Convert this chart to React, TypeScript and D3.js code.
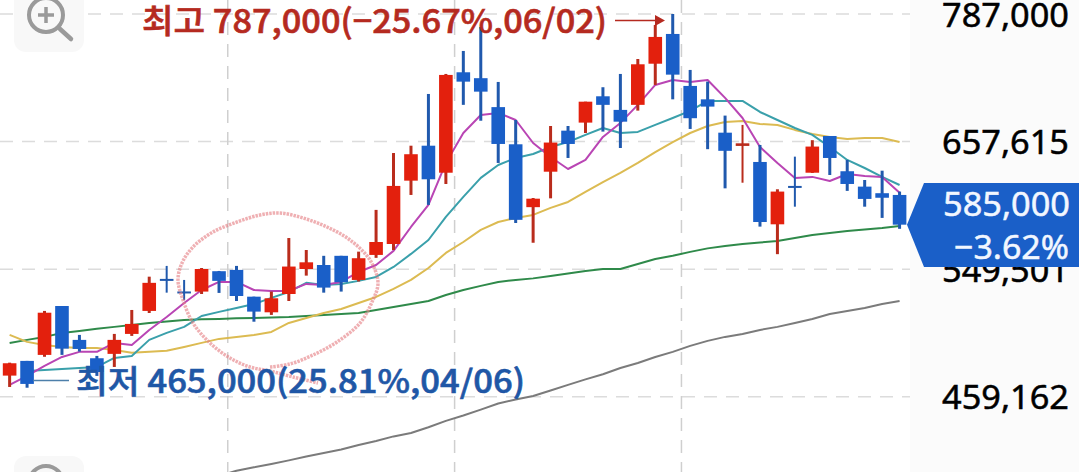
import React from "react";
import * as d3 from "d3";

const W = 1079;
const H = 472;

// Prices in thousand won, one entry per trading day
const highs = [481.7,482.9,518.1,521.7,500.9,486.3,501.6,518.8,543.7,552.0,541.2,550.4,548.1,552.0,528.6,532.4,574.1,564.5,559.9,559.9,563.2,597.3,647.1,653.8,703.2,723.3,747.1,772.7,715.2,677.9,607.4,672.2,672.2,695.6,709.9,723.3,738.7,775.0,787.0,727.4,715.5,682.1,673.2,654.5,614.9,643.8,658.9,662.8,640.8,623.0,631.2,612.9];
const lows = [465.5,465.0,485.7,487.0,489.3,472.8,478.8,500.2,516.6,531.6,526.0,530.6,531.4,525.4,510.3,515.2,525.4,544.5,531.6,532.4,540.0,558.3,564.5,610.0,601.5,619.5,692.5,677.2,638.1,586.4,570.3,607.1,642.6,665.6,666.9,651.7,686.9,712.2,697.9,669.4,650.6,615.7,620.6,583.4,561.2,600.0,629.2,627.4,613.5,600.0,590.6,581.6];
const opens = [473.0,482.9,487.0,521.7,497.4,484.7,487.7,501.6,518.1,542.0,532.5,532.4,547.9,548.9,528.6,517.1,530.6,549.6,552.7,559.9,541.2,560.6,569.3,622.4,653.8,629.4,725.0,719.0,690.3,655.1,599.6,630.3,667.8,675.4,700.9,687.6,692.5,733.8,765.2,711.2,697.9,665.9,653.6,639.0,585.3,617.8,629.4,662.8,630.7,617.2,611.5,610.0];
const closes = [481.3,467.5,516.8,491.3,491.1,475.4,497.4,508.7,539.0,541.2,531.8,549.6,540.5,529.1,517.6,527.4,551.5,554.8,535.4,539.5,558.0,570.9,617.8,646.0,623.6,722.3,715.5,705.5,655.4,589.0,606.8,656.7,655.4,695.6,692.5,676.3,733.2,762.0,722.6,679.6,690.8,649.1,656.0,587.2,612.9,617.0,653.0,642.6,619.5,606.6,607.6,585.0];

const ma5 = [466.9,472.8,479.5,485.6,489.1,489.1,495.3,493.9,504.4,513.7,523.9,533.6,539.7,539.7,533.6,532.9,532.9,538.2,537.4,539.7,547.3,552.7,563.8,583.1,601.5,638.1,665.6,682.7,684.7,677.9,656.3,643.5,632.7,640.8,661.9,675.1,692.5,712.2,717.2,715.2,717.2,699.3,679.8,652.6,638.1,624.8,625.7,622.1,628.3,626.5,625.7,611.8];
const ma20Start = 1;
const ma20 = [476.1,476.8,477.4,478.1,478.8,484.9,486.3,497.4,502.3,506.6,514.4,517.4,520.3,523.2,527.7,532.1,539.0,537.4,538.2,540.5,543.5,551.2,561.4,572.5,591.4,608.3,624.8,636.3,642.6,646.2,652.6,657.2,663.8,670.3,665.6,666.6,673.2,679.8,686.6,696.3,696.3,696.3,685.6,677.9,670.3,663.8,652.6,640.8,633.6,625.7,618.6];
const ma60 = [500.9,496.0,493.9,492.5,491.8,491.8,490.4,488.4,489.1,489.8,492.5,495.3,498.1,499.5,500.9,503.0,509.4,513.0,516.6,519.5,523.9,528.4,534.4,541.2,550.4,562.2,570.9,580.7,587.2,590.6,593.1,599.0,604.0,612.6,621.2,629.2,638.1,648.0,657.2,665.6,672.2,676.0,677.0,674.1,673.2,668.5,664.7,661.9,660.0,661.0,661.0,657.2];
const ma120 = [495.3,497.4,499.5,502.3,503.7,505.2,506.6,508.0,509.4,510.5,511.6,512.0,512.3,512.7,513.0,513.4,513.7,514.4,515.2,515.9,516.6,518.8,521.0,523.2,525.4,529.9,533.6,536.7,539.7,541.2,542.4,544.3,546.2,548.1,549.6,549.6,553.5,557.4,559.9,563.0,565.8,567.7,569.3,570.5,571.7,574.1,576.6,578.2,579.8,581.0,582.3,584.0];
const ma240Start = 12;
const ma240 = [410.7,413.7,415.7,417.7,419.8,422.1,424.2,426.3,429.0,431.4,434.2,436.3,439.8,443.8,447.2,450.9,454.8,457.4,459.6,463.2,466.9,470.5,473.9,478.1,481.5,485.6,489.1,493.2,496.7,499.5,501.6,504.4,506.6,509.4,512.3,515.9,518.1,520.3,523.2,525.4];

const axisTicks = [787000, 657615, 549501, 459162];
const verticalGridAfter = [12, 25, 38];
const highLabel = "최고 787,000(−25.67%,06/02)";
const lowLabel = "최저 465,000(25.81%,04/06)";
const lastPrice = "585,000";
const lastChange = "−3.62%";

// Hand-drawn felt-tip ring on the screenshot (annotation ink, not data)
const ringInk: [number, number][] = [
  [270,367],[290,364],[313,355],[337,342],[360,323],[372,302],[378,283],[370,260],[350,240],[327,227],[303,218],[280,213],[260,215],
  [237,222],[213,232],[193,247],[182,263],[178,280],[183,300],[193,323],[210,343],[230,358],[250,367],[270,371],[293,377],[318,383],
];

const RED = "#e3200d";
const RED_WICK = "#b92c1c";
const BLUE = "#1a5fc8";
const BLUE_WICK = "#2059ad";

const indices = d3.range(closes.length);
const x = d3.scaleBand<number>().domain(indices).range([0.9, 908.3]).paddingInner(0.22).paddingOuter(0.11);
const cx = (i: number) => (x(i) as number) + x.bandwidth() / 2;
const y = d3.scaleLog().domain([787000, 459162]).range([14, 396.7]);

const line = (vals: number[], start = 0) =>
  d3.line<number>().x((_, i) => cx(i + start)).y((v) => y(v * 1000))(vals) as string;

const ringPath = d3.line().curve(d3.curveCatmullRom.alpha(0.5))(ringInk) as string;

const maStyles: { vals: number[]; start: number; color: string; w: number }[] = [
  { vals: ma240, start: ma240Start, color: "#7b7b7b", w: 2 },
  { vals: ma120, start: 0, color: "#2f8a4a", w: 2 },
  { vals: ma60, start: 0, color: "#dcbb52", w: 2 },
  { vals: ma20, start: ma20Start, color: "#3aa0ab", w: 2 },
  { vals: ma5, start: 0, color: "#b945b4", w: 2 },
];

const numFont = "'Noto Sans', sans-serif";
const krFont = "'Noto Sans CJK KR', 'Noto Sans', sans-serif";

export default function App() {
  const plotRight = 910;
  return (
    <svg
      width={W}
      height={H}
      viewBox={`0 0 ${W} ${H}`}
      style={{ position: "absolute", left: 0, top: 0, display: "block", background: "#fff" }}
    >
      <rect x={plotRight} y={0} width={W - plotRight} height={H} fill="#fbfbfb" />

      {axisTicks.map((t) => (
        <line key={t} x1={0} x2={plotRight} y1={y(t)} y2={y(t)} stroke="#dcdcdc" strokeWidth={1.5} strokeDasharray="13 9" />
      ))}
      {verticalGridAfter.map((i) => {
        const gx = cx(i) + x.step() / 2;
        return <line key={i} x1={gx} x2={gx} y1={0} y2={H} stroke="#cfcfcf" strokeWidth={1.5} strokeDasharray="13 9" />;
      })}

      {maStyles.map((m, i) => (
        <path key={i} d={line(m.vals, m.start)} fill="none" stroke={m.color} strokeWidth={m.w} strokeLinejoin="round" />
      ))}

      {indices.map((i) => {
        const up = closes[i] > opens[i];
        const top = y(Math.max(opens[i], closes[i]) * 1000);
        const bot = y(Math.min(opens[i], closes[i]) * 1000);
        const thin = bot - top < 3;
        return (
          <g key={i}>
            <line x1={cx(i)} x2={cx(i)} y1={y(highs[i] * 1000)} y2={y(lows[i] * 1000)} stroke={up ? RED_WICK : BLUE_WICK} strokeWidth={thin ? 2 : 3} />
            <rect
              x={x(i) as number}
              y={top}
              width={x.bandwidth()}
              height={Math.max(bot - top, thin ? 2 : 1)}
              fill={thin ? (up ? RED_WICK : BLUE_WICK) : up ? RED : BLUE}
            />
          </g>
        );
      })}

      <path d={ringPath} fill="none" stroke="#e57f84" strokeOpacity={0.62} strokeWidth={3.5} strokeDasharray="2.5 1" />

      {/* Zoom buttons */}
      <rect x={14} y={-12} width={70} height={64} rx={12} fill="#f8f8f8" />
      <circle cx={46} cy={15} r={17} fill="none" stroke="#9a9a9a" strokeWidth={4} />
      <line x1={38} x2={54} y1={15} y2={15} stroke="#9a9a9a" strokeWidth={3.5} />
      <line x1={46} x2={46} y1={7} y2={23} stroke="#9a9a9a" strokeWidth={3.5} />
      <line x1={60} x2={71} y1={29} y2={39} stroke="#9a9a9a" strokeWidth={4.5} strokeLinecap="round" />
      <rect x={14} y={456} width={70} height={40} rx={12} fill="#f8f8f8" />
      <circle cx={46} cy={483} r={17} fill="none" stroke="#9a9a9a" strokeWidth={4} />

      {/* High and low callouts */}
      <text x={142} y={33} fontFamily={krFont} fontSize={33} fontWeight={500} fill="#b52a20" stroke="#b52a20" strokeWidth={0.6} textLength={465} lengthAdjust="spacingAndGlyphs">
        {highLabel}
      </text>
      <line x1={615} x2={656} y1={20.5} y2={20.5} stroke="#b52a20" strokeWidth={1.5} />
      <path d="M655,15 L665,20.5 L655,26 Z" fill="#b52a20" />

      <line x1={33} x2={69} y1={380.5} y2={380.5} stroke="#4d7faa" strokeWidth={1.5} />
      <text x={76} y={393} fontFamily={krFont} fontSize={32} fontWeight={500} fill="#1f57a6" stroke="#1f57a6" strokeWidth={0.6} textLength={449} lengthAdjust="spacingAndGlyphs">
        {lowLabel}
      </text>

      {/* Axis labels */}
      {axisTicks.map((t) => (
        <text key={t} x={1069} y={y(t) + 12.5} textAnchor="end" fontFamily={numFont} fontSize={33} fill="#000" stroke="#000" strokeWidth={0.5} textLength={127} lengthAdjust="spacingAndGlyphs">
          {d3.format(",")(t)}
        </text>
      ))}

      {/* Current price tag */}
      <path d={`M907,${y(585000)} L924,183 L${W},183 L${W},267 L924,267 Z`} fill={BLUE} />
      <text x={1070} y={216} textAnchor="end" fontFamily={numFont} fontSize={33} fill="#f2f7ff" stroke="#f2f7ff" strokeWidth={0.5} textLength={127} lengthAdjust="spacingAndGlyphs">
        {lastPrice}
      </text>
      <text x={1069} y={259} textAnchor="end" fontFamily={numFont} fontSize={33} fill="#f2f7ff" stroke="#f2f7ff" strokeWidth={0.5} textLength={115} lengthAdjust="spacingAndGlyphs">
        {lastChange}
      </text>
    </svg>
  );
}
